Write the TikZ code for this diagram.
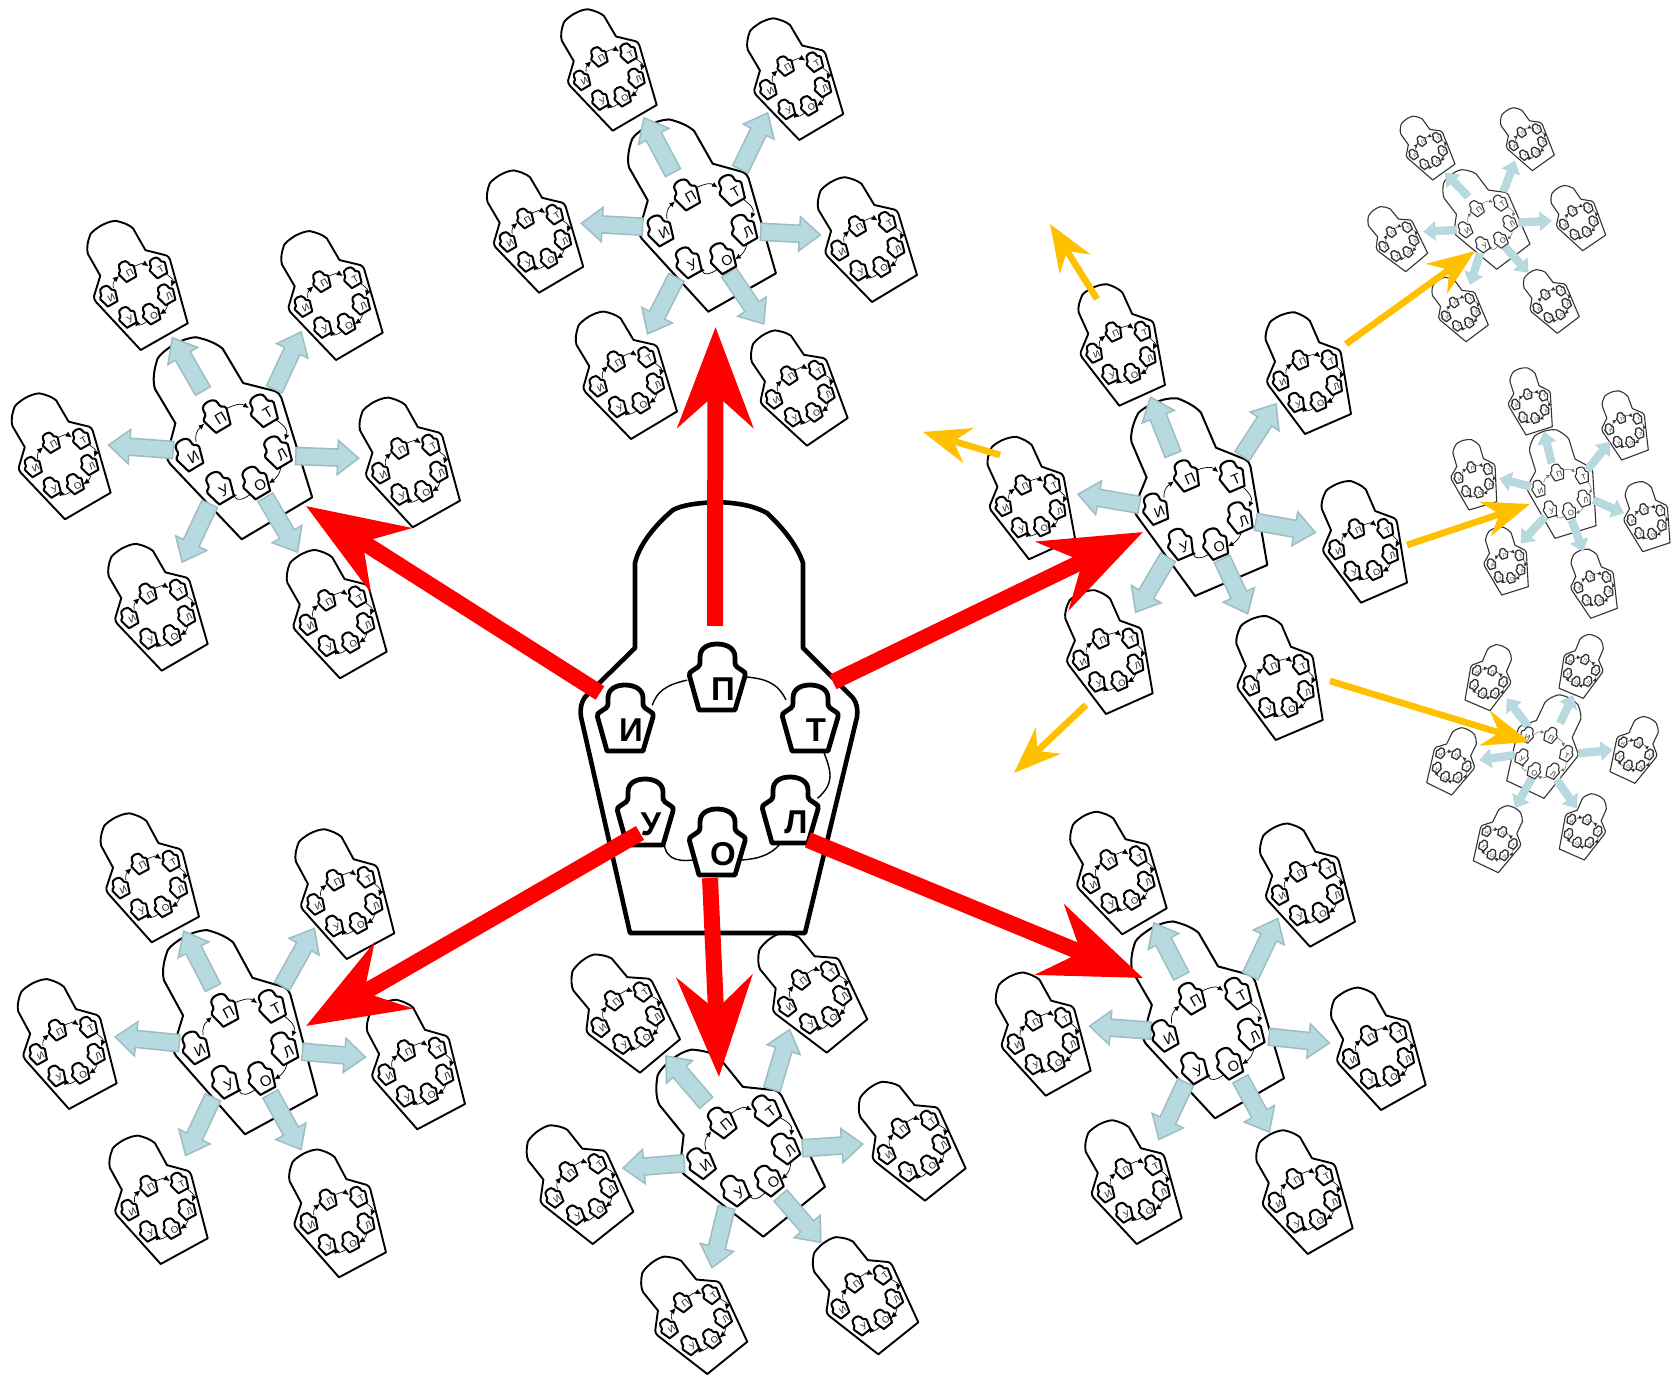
\documentclass[tikz,border=0pt]{standalone}
\usepackage{fontspec}
\setmainfont{Liberation Sans}
\usetikzlibrary{arrows.meta}
\definecolor{bluefill}{HTML}{B6DADF}
\definecolor{blueedge}{HTML}{9DBDC4}
\definecolor{goldc}{HTML}{FFC000}
\definecolor{softk}{HTML}{333333}
\tikzset{
  anc/.style={circle,minimum size=30pt,inner sep=0pt,outer sep=0pt,transform shape},
  ltr/.style={inner sep=0pt,outer sep=0pt,transform shape,font=\ltrfont,text=\lc},
  redarrow/.style={draw=red,line width=8pt,-{Stealth[length=50pt,width=37.5pt,inset=16.5pt]}},
  goldarrow/.style={draw=goldc,line width=3.3pt,-{Stealth[length=23.5pt,width=18pt,inset=7.5pt]}},
}
\newcommand\levelbig{\def\lc{black}\def\ltrfont{\fontsize{16.5}{16.5}\selectfont\bfseries}%
  \tikzset{ol/.style={draw=black,fill=white,line width=2.3pt,line join=round},
  ns/.style={draw=black,fill=white,line width=2.4pt,line join=round},
  conn/.style={draw=black,line width=.7pt}}}
\newcommand\levelhub{\def\lc{black}\def\ltrfont{\fontsize{16}{16}\selectfont}%
  \tikzset{ol/.style={draw=black,fill=white,line width=1pt,line join=round},
  ns/.style={draw=black,fill=white,line width=1.05pt,line join=round},
  conn/.style={draw=black,line width=.35pt,-{Latex[length=2.8pt,width=2.6pt]}}}}
\newcommand\levelchild{\def\lc{black!85}\def\ltrfont{\fontsize{16}{16}\selectfont}%
  \tikzset{ol/.style={draw=black,fill=white,line width=.95pt,line join=round},
  ns/.style={draw=black,fill=white,line width=1pt,line join=round},
  conn/.style={draw=black,line width=.3pt,-{Latex[length=3pt,width=2.8pt]}}}}
\newcommand\levelsmallhub{\def\lc{softk}\def\ltrfont{\fontsize{16}{16}\selectfont}%
  \tikzset{ol/.style={draw=softk,fill=white,line width=.55pt,line join=round},
  ns/.style={draw=softk,fill=white,line width=.55pt,line join=round},
  conn/.style={draw=softk!70,line width=.25pt,-{Latex[length=1.8pt,width=1.8pt]}}}}
\newcommand\levelsmallchild{\def\lc{softk}\def\ltrfont{\fontsize{16}{16}\selectfont}%
  \tikzset{ol/.style={draw=softk,fill=white,line width=.55pt,line join=round},
  ns/.style={draw=softk,fill=white,line width=.65pt,line join=round},
  conn/.style={draw=softk,line width=.2pt,-{Latex[length=1.9pt,width=1.9pt]}}}}
\newcommand\arrowsbig{\tikzset{
  blueo/.style={draw=blueedge,line width=9.3pt,-{Triangle[length=11.5pt,width=18pt]}},
  bluei/.style={draw=bluefill,line width=7.7pt,shorten <=.8pt,shorten >=1.3pt,-{Triangle[length=9.4pt,width=14.7pt]}}}}
\newcommand\arrowssmall{\tikzset{
  blueo/.style={draw=blueedge!70,line width=4.1pt,-{Triangle[length=6pt,width=9.4pt]}},
  bluei/.style={draw=bluefill,line width=3.6pt,shorten <=.3pt,shorten >=.5pt,-{Triangle[length=5.2pt,width=8.2pt]}}}}
% placement from the two bottom corners of a figure
\newcommand\place[5]{%
  \pgfmathsetmacro\rr{atan2(#2-#4,#3-#1)}%
  \pgfmathsetmacro\ss{veclen(#3-#1,#4-#2)/175}%
  \begin{scope}[shift={(#1,#2)},rotate=\rr,scale=\ss,shift={(87,-173)}]#5\end{scope}}
\newcommand\outline{%
  \draw[ol] (-87,173) -- (-136,-43) .. controls (-137,-52) and (-136,-57) .. (-132,-63) -- (-82,-112) -- (-82,-197)
    .. controls (-78,-215) and (-62,-235) .. (-44,-250) .. controls (-35,-255) and (-20,-257) .. (0,-258)
    .. controls (20,-257) and (35,-255) .. (50,-247) .. controls (65,-233) and (80,-215) .. (86,-197)
    -- (86,-112) -- (136,-62) .. controls (140,-57) and (141,-50) .. (140,-43) -- (88,173) -- cycle;}
\newcommand\sil[4]{%
  \begin{scope}[shift={(#2,#3)}]
  \draw[ns] (-18,33) -- (-27.5,-1) .. controls (-28,-4) and (-27,-5) .. (-25,-6) -- (-19,-10) .. controls (-17,-12) and (-17,-13) .. (-17,-15) -- (-17,-20)
    .. controls (-17,-29) and (-9,-33) .. (0,-33) .. controls (9,-33) and (18,-29) .. (18,-20) -- (18,-15)
    .. controls (18,-13) and (18,-12) .. (20,-10) -- (26,-6) .. controls (28,-5) and (28.5,-4) .. (28,-1) -- (18,33) -- cycle;
  \node[ltr] (#1-t) at (6,12) {#4};
  \end{scope}}
\newcommand\ring[1]{%
  \node[anc] (#1-i) at (-92,-42) {};
  \node[anc] (#1-p) at (0,-83) {};
  \node[anc] (#1-t) at (93,-42) {};
  \node[anc] (#1-l) at (73,50) {};
  \node[anc] (#1-o) at (0,82) {};
  \node[anc] (#1-u) at (-72,52) {};
  \draw[conn] (#1-i.25) .. controls (-60,-68) and (-52,-75) .. (#1-p.186);
  \draw[conn] (#1-p.0) .. controls (48,-81) and (60,-78) .. (#1-t.143);
  \draw[conn] (#1-t.-68) .. controls (114,10) and (119,22) .. (#1-l.23);
  \draw[conn] (#1-l.-102) .. controls (55,96) and (40,99) .. (#1-o.-37);
  \draw[conn] (#1-o.-143) .. controls (-42,102) and (-55,98) .. (#1-u.-50);
  \sil{#1-i}{-92}{-42}{И}\sil{#1-p}{0}{-83}{П}\sil{#1-t}{93}{-42}{Т}%
  \sil{#1-l}{73}{50}{Л}\sil{#1-o}{0}{82}{О}\sil{#1-u}{-72}{52}{У}}
\newcommand\squeezed[1]{\begin{scope}[shift={(0,173)},yscale=.96,shift={(0,-173)}]#1\end{scope}}
\newcommand\child[5]{\levelchild\place{#2}{#3}{#4}{#5}{\squeezed{\outline\ring{#1}}}}
\newcommand\schild[5]{\levelsmallchild\place{#2}{#3}{#4}{#5}{\squeezed{\outline\ring{#1}}}}
\newcommand\hubout[4]{\levelhub\place{#1}{#2}{#3}{#4}{\outline}}
\newcommand\hubring[5]{\levelhub\place{#2}{#3}{#4}{#5}{\ring{#1}}}
\newcommand\shubout[4]{\levelsmallhub\place{#1}{#2}{#3}{#4}{\outline}}
\newcommand\shubring[5]{\levelsmallhub\place{#2}{#3}{#4}{#5}{\ring{#1}}}
\newcommand\link[5]{%
  \coordinate (#1-s) at (#2,#3);\coordinate (#1-e) at (#4,#5);
  \draw[blueo] (#1-s) -- (#1-e);\draw[bluei] (#1-s) -- (#1-e);}
\newcommand\bigarrow[6]{%
  \coordinate (#2-s) at (#3,#4);\coordinate (#2-e) at (#5,#6);
  \draw[#1] (#2-s) -- (#2-e);}
\begin{document}
\begin{tikzpicture}[x=.5pt,y=-.5pt]
\useasboundingbox (0,0) rectangle (1672,1375);
\fill[white] (0,0) rectangle (1672,1375);
\arrowsbig
% ---- left cluster
\child{La}{140.7}{350}{187.7}{323.3}
\child{Lb}{336}{360}{382.7}{332.7}
\child{Lc}{65}{519.3}{110.7}{492.7}
\child{Ld}{412.7}{527.3}{460}{500.7}
\child{Le}{161.7}{670.7}{207.7}{644}
\child{Lf}{340}{678.3}{386.7}{651.7}
\hubout{241.7}{539.3}{312.3}{497.3}
\link{La}{203.3}{391.7}{171.7}{336.7}
\link{Lb}{274}{390}{301.7}{330.7}
\link{Lc}{174}{450}{107.3}{445}
\link{Ld}{295}{456}{360}{458.3}
\link{Le}{210}{503.3}{181.7}{563.3}
\link{Lf}{265}{496.7}{298.3}{553.3}
\hubring{Lh}{241.7}{539.3}{312.3}{497.3}
% ---- top cluster
\child{Ta}{612.7}{130.7}{656.7}{105}
\child{Tb}{799.3}{140}{843.3}{114}
\child{Tc}{539}{292.7}{583.3}{266.7}
\child{Td}{872}{302}{917}{275}
\child{Te}{631}{439}{677}{411.5}
\child{Tf}{807}{445.7}{847.7}{418}
\hubout{708.3}{311.7}{776}{273.3}
\link{Ta}{673.3}{173.3}{643.3}{116.7}
\link{Tb}{740}{170}{768.3}{111.7}
\link{Tc}{643.3}{226.7}{580}{223.3}
\link{Td}{760}{231.7}{821.7}{235}
\link{Te}{676.7}{276.7}{647}{335}
\link{Tf}{728.3}{271.7}{764.5}{325}
\hubring{Th}{708.3}{311.7}{776}{273.3}
% ---- bottom cluster
\child{Ba}{640}{1072.7}{680}{1039.3}
\child{Bb}{826.7}{1052.7}{867.3}{1019.3}
\child{Bc}{592.7}{1244}{633.3}{1211.7}
\child{Bd}{925}{1200.7}{965.7}{1168.3}
\child{Be}{707.3}{1374}{747.3}{1341.7}
\child{Bf}{878.3}{1354.3}{918.3}{1322.3}
\hubout{763.3}{1236.7}{825}{1186.7}
\link{Ba}{706.7}{1103.3}{665}{1055}
\link{Bb}{771.7}{1090}{790}{1028.3}
\link{Bc}{685}{1163.3}{621.7}{1168.3}
\link{Bd}{801.7}{1148.3}{864}{1144}
\link{Be}{726.7}{1206.7}{711.7}{1269}
\link{Bf}{780}{1195}{821.7}{1243.3}
\hubring{Bh}{763.3}{1236.7}{825}{1186.7}
% ---- right cluster
\child{Ra}{1119.3}{405.7}{1165}{385}
\child{Rb}{1305}{434}{1351}{414}
\child{Rc}{1029}{559.3}{1075}{538.3}
\child{Rd}{1361}{602.7}{1407}{582.7}
\child{Re}{1106}{714}{1152.7}{693.3}
\child{Rf}{1275.7}{740}{1322.7}{720}
\hubout{1195}{596}{1267.3}{565}
\link{Ra}{1173.3}{455}{1150}{396}
\link{Rb}{1241.7}{456.7}{1276.7}{402.7}
\link{Rc}{1140}{505}{1076.7}{494}
\link{Rd}{1255}{521.7}{1316.7}{532.7}
\link{Re}{1168.3}{556.7}{1135}{613.3}
\link{Rf}{1221.7}{558.3}{1248.3}{615}
\hubring{Rh}{1195}{596}{1267.3}{565}
% ---- bottom-right cluster
\child{Ea}{1122.3}{934.3}{1166.7}{908.3}
\child{Eb}{1310}{946.7}{1355}{921.7}
\child{Ec}{1045.7}{1095.7}{1090.7}{1070.7}
\child{Ed}{1381}{1110}{1425.7}{1085}
\child{Ee}{1136.7}{1244}{1181.7}{1218.3}
\child{Ef}{1307.7}{1254}{1352.7}{1228.3}
\hubout{1215}{1118.3}{1284}{1078.3}
\link{Ea}{1181.7}{976.7}{1153.3}{921.7}
\link{Eb}{1250}{976.7}{1278.3}{917.3}
\link{Ec}{1151.7}{1030.7}{1088.3}{1026}
\link{Ed}{1268.3}{1036.7}{1330.7}{1043.3}
\link{Ee}{1186}{1081.7}{1158.3}{1140.7}
\link{Ef}{1240}{1078.3}{1270}{1133.3}
\hubring{Eh}{1215}{1118.3}{1284}{1078.3}
% ---- bottom-left cluster
\child{Fa}{151.7}{942.3}{199}{916.7}
\child{Fb}{346.7}{959}{394.3}{933.3}
\child{Fc}{69}{1109}{116.7}{1083.3}
\child{Fd}{417.3}{1129.3}{465}{1104}
\child{Fe}{160.7}{1264}{207.7}{1238.3}
\child{Ff}{339}{1277.3}{386}{1252.3}
\hubout{245}{1134.3}{317.3}{1095}
\link{Fa}{213.3}{988.3}{183.3}{930}
\link{Fb}{281.7}{986.7}{315}{927.3}
\link{Fc}{180}{1043.3}{114}{1036.7}
\link{Fd}{301.7}{1051.7}{366.7}{1057.3}
\link{Fe}{213.3}{1096.7}{185}{1156.7}
\link{Ff}{270}{1093.3}{301.7}{1150.7}
\hubring{Fh}{245}{1134.3}{317.3}{1095}
% ---- small cluster A
\arrowssmall
\schild{Aa}{1432.7}{180}{1455}{164}
\schild{Ab}{1532.3}{170.7}{1554.3}{155}
\schild{Ac}{1405.7}{271.7}{1427.7}{253.3}
\schild{Ad}{1582.7}{250.7}{1605.7}{235}
\schild{Ae}{1466}{341.7}{1488.3}{325}
\schild{Af}{1557.3}{333.3}{1579.3}{316.7}
\shubout{1496.7}{269.3}{1530}{244}
\link{Aa}{1468.3}{196.7}{1445}{172.7}
\link{Ab}{1503.3}{191.7}{1515}{160.7}
\link{Ac}{1456.7}{230}{1423.3}{231.7}
\link{Ad}{1518.3}{222.7}{1551.7}{220.7}
\link{Ae}{1480}{253.3}{1470}{285}
\link{Af}{1505}{246.7}{1528.3}{272.7}
\shubring{Ah}{1496.7}{269.3}{1530}{244}
% ---- small cluster B
\schild{Ca}{1526}{435}{1552.3}{426.7}
\schild{Cb}{1621.7}{460}{1648.3}{450}
\schild{Cc}{1469}{510}{1496.7}{501.7}
\schild{Cd}{1642.7}{551.7}{1670}{542.7}
\schild{Ce}{1501.7}{595}{1528.3}{586.7}
\schild{Cf}{1590.7}{618.3}{1617.3}{608.3}
\shubout{1555}{538.3}{1596}{525.7}
\link{Ca}{1551.7}{463.3}{1544}{431.7}
\link{Cb}{1587.3}{470}{1610}{441.7}
\link{Cc}{1530.7}{486.7}{1499.3}{478.3}
\link{Cd}{1593.3}{500}{1624}{513.3}
\link{Ce}{1545}{516.7}{1520.7}{543.3}
\link{Cf}{1571.7}{520}{1583.3}{551.7}
\shubring{Ch}{1555}{538.3}{1596}{525.7}
% ---- small cluster C
\schild{Da}{1465}{700}{1490}{710.7}
\schild{Db}{1559}{688.3}{1583.3}{698.3}
\schild{Dc}{1426.7}{782.7}{1451.7}{795}
\schild{Dd}{1610}{771.7}{1635}{783.3}
\schild{De}{1473.3}{860.7}{1498.3}{872.7}
\schild{Df}{1559.3}{849}{1584.3}{860}
\shubout{1506.7}{780.7}{1544}{798.3}
\link{Da}{1528.3}{726.7}{1506.7}{698.3}
\link{Db}{1560}{723.3}{1573.3}{695}
\link{Dc}{1515}{755}{1479.3}{760}
\link{Dd}{1578.3}{753.3}{1612.7}{750}
\link{De}{1531.7}{778.3}{1515}{808.3}
\link{Df}{1556.7}{780}{1576.7}{808.3}
\shubring{Dh}{1506.7}{780.7}{1544}{798.3}
% ---- central figure
\levelbig
\place{630}{933}{805}{933}{\outline\ring{M}}
% ---- gold arrows
\bigarrow{goldarrow}{g1}{1097}{299}{1050}{224}
\bigarrow{goldarrow}{g2}{1000}{455}{923}{432}
\bigarrow{goldarrow}{g3}{1346}{344}{1475}{251}
\bigarrow{goldarrow}{g4}{1407}{545}{1530}{504}
\bigarrow{goldarrow}{g5}{1330}{681}{1530}{742}
\bigarrow{goldarrow}{g6}{1086}{705}{1014}{773}
% ---- red arrows
\bigarrow{redarrow}{r1}{715}{626}{715.5}{327}
\bigarrow{redarrow}{r2}{600}{693}{306}{506}
\bigarrow{redarrow}{r3}{833}{682}{1143}{532}
\bigarrow{redarrow}{r4}{640}{833}{306}{1026}
\bigarrow{redarrow}{r5}{710}{878}{719}{1077}
\bigarrow{redarrow}{r6}{808}{840}{1143}{978}
\end{tikzpicture}
\end{document}
